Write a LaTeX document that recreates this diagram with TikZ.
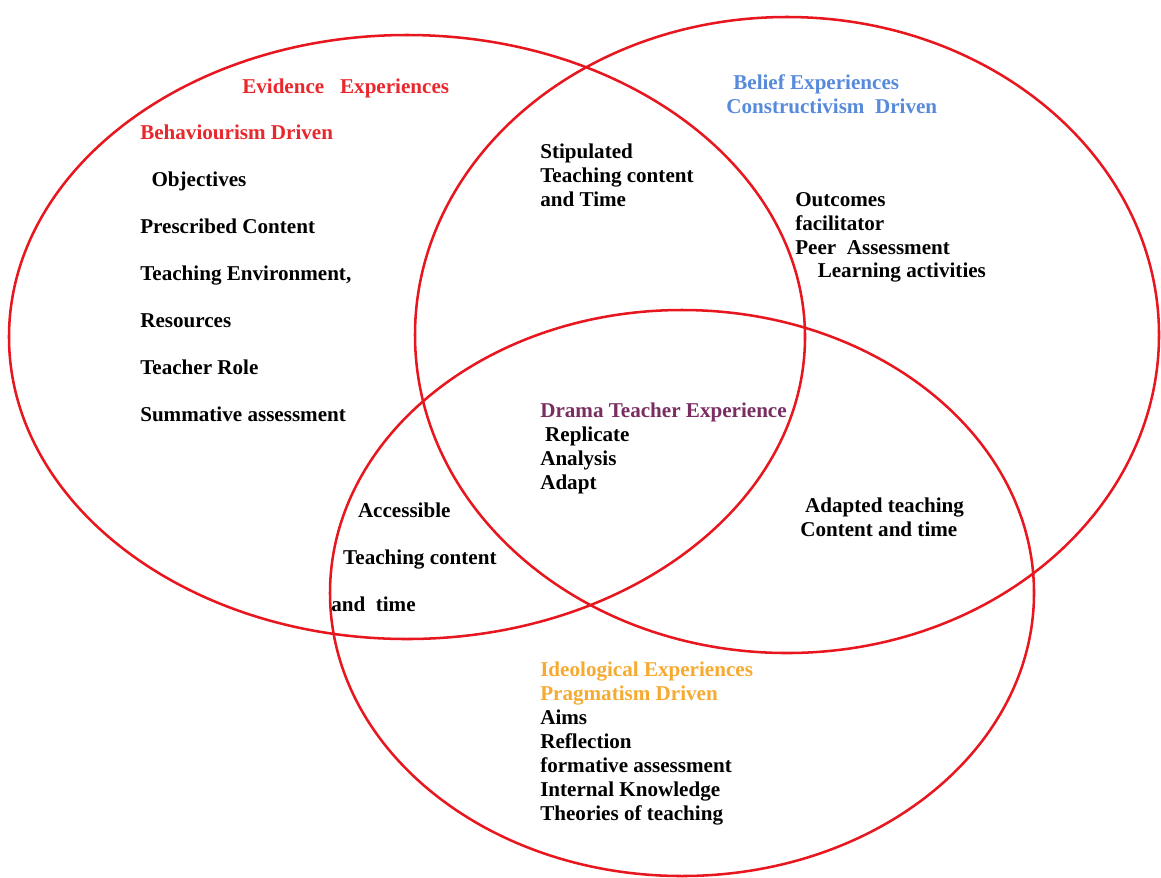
\documentclass[tikz,border=0pt]{standalone}
\usepackage{fontspec}
\setmainfont{Liberation Serif}

\definecolor{vennred}{RGB}{232,22,30}
\definecolor{evidred}{RGB}{232,40,45}
\definecolor{beliefblue}{RGB}{88,138,220}
\definecolor{dramapurple}{RGB}{122,45,96}
\definecolor{ideoorange}{RGB}{246,170,48}

\tikzset{
	venn/.style={draw=vennred, line width=1.8pt},
	txtblock/.style={anchor=north west, inner sep=0pt, align=left, font=\bfseries\fontsize{15}{17}\selectfont},
	widelist/.style={txtblock, font=\bfseries\fontsize{15}{33.4}\selectfont},
}

\begin{document}
\begin{tikzpicture}[x=0.025cm, y=-0.025cm]
	\useasboundingbox (0,0) rectangle (1161,877);
	% the three sets
	\coordinate (evid) at (407,337);
	\coordinate (belief) at (787,335);
	\coordinate (ideo) at (682,593);
	\draw[venn] (evid) ellipse [x radius=398, y radius=302];
	\draw[venn] (belief) ellipse [x radius=372, y radius=318];
	\draw[venn] (ideo) ellipse [x radius=352, y radius=283];
	% texts
	\node[txtblock, text=evidred] (evidhead) at (242,79) {Evidence\ \ \ Experiences};
	\node[widelist] (evidlist) at (140,125) {\textcolor{evidred}{Behaviourism Driven}\\ \hspace*{8pt}Objectives\\ Prescribed Content\\ Teaching Environment,\\ Resources\\ Teacher Role\\ Summative assessment};
	\node[txtblock] (stipulated) at (540,144) {Stipulated\\ Teaching content\\ and Time};
	\node[txtblock, text=beliefblue] (beliefhead) at (726,74) {\hspace*{5pt}Belief Experiences\\ Constructivism\ \ Driven};
	\node[txtblock] (outcomes) at (795,192) {Outcomes\\ facilitator\\ Peer\ \ Assessment\\ \hspace*{16pt}Learning activities};
	\node[txtblock] (drama) at (540,403) {\textcolor{dramapurple}{Drama Teacher Experience}\\ \hspace*{3.5pt}Replicate\\ Analysis\\ Adapt};
	\node[widelist] (access) at (331,503) {\hspace*{19pt}Accessible\\ \hspace*{8.5pt}Teaching content\\ and\ \ time};
	\node[txtblock] (adapted) at (800,498) {\hspace*{3.5pt}Adapted teaching\\ Content and time};
	\node[txtblock] (ideolist) at (540,662) {\textcolor{ideoorange}{Ideological Experiences}\\ \textcolor{ideoorange}{Pragmatism Driven}\\ Aims\\ Reflection\\ formative assessment\\ Internal Knowledge\\ Theories of teaching};
\end{tikzpicture}
\end{document}
